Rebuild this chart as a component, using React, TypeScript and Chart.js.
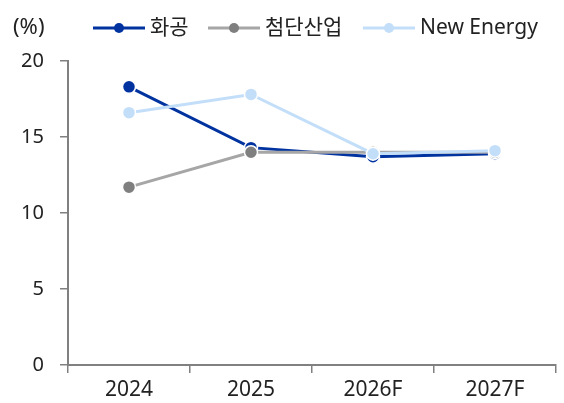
import React, { useEffect, useRef } from "react";
import { Chart, registerables } from "chart.js";

Chart.register(...registerables);

const categories = ["2024", "2025", "2026F", "2027F"];
const seriesNames = ["화공", "첨단산업", "New Energy"];
const chemValues = [18.3, 14.3, 13.7, 13.9];
const advValues = [11.7, 14.0, 14.0, 14.0];
const newEnergyValues = [16.6, 17.8, 13.9, 14.1];
const yTicks = [0, 5, 10, 15, 20];
const unitLabel = "(%)";

const FONT = '"Noto Sans", "Noto Sans CJK KR", sans-serif';
const lineColors = ["#0033A0", "#A6A6A6", "#C3DEF9"];
const pointColors = ["#0033A0", "#7F7F7F", "#C3DEF9"];

const legendPlugin = {
  id: "customLegend",
  afterDraw(chart: any) {
    const ctx = chart.ctx;
    ctx.save();
    ctx.textBaseline = "middle";
    ctx.fillStyle = "#222";
    ctx.textAlign = "left";
    ctx.font = `22px ${FONT}`;
    ctx.fillText(unitLabel, 13, 28);
    ctx.font = `21px ${FONT}`;
    const starts = [93, 208, 363];
    const y = 28;
    seriesNames.forEach((name, i) => {
      const x0 = starts[i];
      ctx.strokeStyle = lineColors[i];
      ctx.lineWidth = 3;
      ctx.beginPath();
      ctx.moveTo(x0, y);
      ctx.lineTo(x0 + 52, y);
      ctx.stroke();
      ctx.fillStyle = pointColors[i];
      ctx.beginPath();
      ctx.arc(x0 + 26, y, 5, 0, Math.PI * 2);
      ctx.fill();
      ctx.fillStyle = "#222";
      ctx.fillText(name, x0 + 57, y);
    });
    ctx.restore();
  },
};

export default function App() {
  const ref = useRef<HTMLCanvasElement>(null);
  useEffect(() => {
    if (!ref.current) return;
    const mk = (label: string, data: number[], i: number, order: number) => ({
      label,
      data,
      borderColor: lineColors[i],
      backgroundColor: pointColors[i],
      pointBackgroundColor: pointColors[i],
      pointBorderColor: "#ffffff",
      pointBorderWidth: 1.5,
      pointRadius: 6.5,
      borderWidth: 3,
      tension: 0,
      order,
    });
    const chart = new Chart(ref.current, {
      type: "line",
      data: {
        labels: categories,
        datasets: [
          mk(seriesNames[0], chemValues, 0, 3),
          mk(seriesNames[1], advValues, 1, 2),
          mk(seriesNames[2], newEnergyValues, 2, 1),
        ],
      },
      options: {
        animation: false,
        responsive: false,
        layout: { padding: { top: 61, right: 6, left: 0, bottom: 0 } },
        plugins: { legend: { display: false }, tooltip: { enabled: false } },
        scales: {
          x: {
            type: "category",
            offset: true,
            grid: {
              display: true,
              drawOnChartArea: false,
              offset: true,
              tickLength: 8,
              color: "#808080",
              lineWidth: 1.5,
            },
            border: { color: "#808080", width: 2 },
            ticks: { color: "#222", font: { family: FONT, size: 21 }, padding: 4 },
            afterFit(scale: any) {
              scale.height = 38;
            },
          },
          y: {
            min: 0,
            max: 20,
            afterBuildTicks(scale: any) {
              scale.ticks = yTicks.map((v) => ({ value: v }));
            },
            grid: {
              display: true,
              drawOnChartArea: false,
              tickLength: 8,
              color: "#808080",
              lineWidth: 1.5,
            },
            border: { color: "#808080", width: 2 },
            ticks: { color: "#222", font: { family: FONT, size: 20 }, padding: 16 },
            afterFit(scale: any) {
              scale.width = 68;
            },
          },
        },
      },
      plugins: [legendPlugin],
    });
    return () => chart.destroy();
  }, []);
  return (
    <div style={{ position: "absolute", left: 0, top: 0, width: 564, height: 403, background: "#fff" }}>
      <canvas ref={ref} width={564} height={403} style={{ display: "block" }} />
    </div>
  );
}
